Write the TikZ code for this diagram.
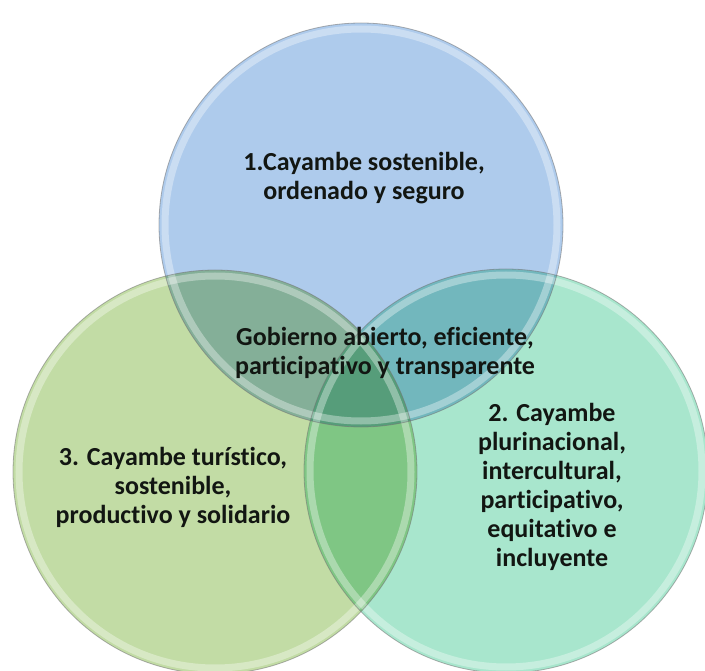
\documentclass[tikz,border=0pt]{standalone}
\usepackage{fontspec}
\setmainfont{Carlito}[Ligatures=NoCommon]
\definecolor{cblue}{RGB}{174,203,236}
\definecolor{cgreen}{RGB}{194,220,165}
\definecolor{cteal}{RGB}{168,230,205}
\definecolor{ctext}{RGB}{18,22,18}
\begin{document}
\begin{tikzpicture}[x=1pt,y=-1pt,
  venn/.style={circle, minimum size=404pt, inner sep=0pt, fill=#1},
  ring/.style={circle, minimum size=392pt, inner sep=0pt, draw=white, draw opacity=0.35, line width=7pt},
  rim/.style={circle, minimum size=404pt, inner sep=0pt, draw=black!55, draw opacity=0.55, line width=0.8pt},
  lbl/.style={align=center, text=ctext, font=\bfseries\fontsize{26}{29}\selectfont, inner sep=0pt}]
\useasboundingbox (0,0) rectangle (705,671);
\fill[white] (0,0) rectangle (705,671);
\begin{scope}[blend mode=multiply]
  \node[venn=cblue] (c1) at (361,225) {};
  \node[venn=cteal] (c2) at (506,471) {};
  \node[venn=cgreen] (c3) at (215,472) {};
\end{scope}
\node[ring] (r1) at (c1.center) {};
\node[ring] (r2) at (c2.center) {};
\node[ring] (r3) at (c3.center) {};
\node[rim] (o1) at (c1.center) {};
\node[rim] (o2) at (c2.center) {};
\node[rim] (o3) at (c3.center) {};
\node[lbl] (t1) at (364,178) {1.Cayambe sostenible,\\ordenado y seguro};
\node[lbl] (t0) at (385,353) {Gobierno abierto, eficiente,\\participativo y transparente};
\node[lbl] (t3) at (173,487) {3. Cayambe turístico,\\sostenible,\\productivo y solidario};
\node[lbl] (t2) at (552,487) {2. Cayambe\\plurinacional,\\intercultural,\\participativo,\\equitativo e\\incluyente};
\end{tikzpicture}
\end{document}
